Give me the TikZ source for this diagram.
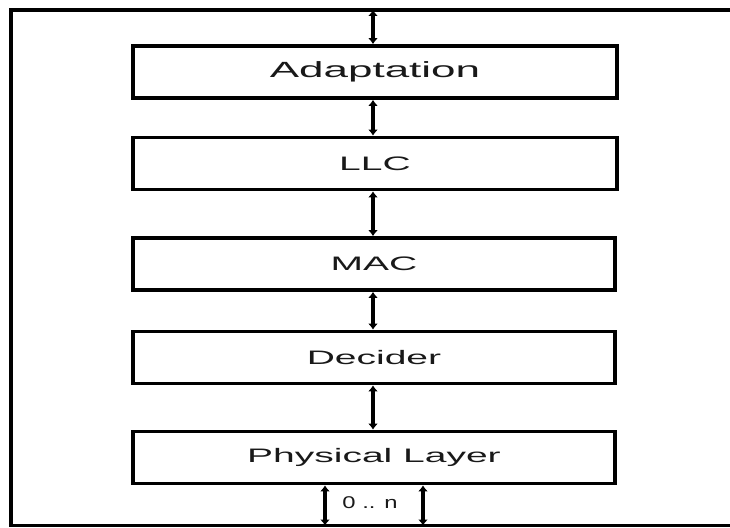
\documentclass[tikz,border=0pt]{standalone}
\usepackage{fontspec}
\setmainfont{Liberation Sans}
\newfontfamily\widefont[FakeStretch=2]{Liberation Sans}
\newfontfamily\midfont[FakeStretch=1.4]{Liberation Sans}
\usetikzlibrary{arrows.meta}
\begin{document}
\begin{tikzpicture}[x=1pt,y=-1pt,
  layerbox/.style={draw, line width=3.8pt, minimum width=484pt, minimum height=52pt,
    inner sep=0pt, font=\widefont\fontsize{19.5pt}{22pt}\selectfont, text=black!90},
  frameline/.style={line width=3.2pt},
  arr/.style={line width=3.6pt, {Latex[length=6pt,width=10pt]}-{Latex[length=6pt,width=10pt]}}]
\useasboundingbox (0,0) rectangle (730,527);
\draw[frameline] (731,10) -- (11,10) -- (11,525.5) -- (731,525.5);
\node[layerbox, font=\widefont\fontsize{22pt}{26pt}\selectfont] (ad) at (375,72) {Adaptation};
\node[layerbox] (llc) at (375,163.5) {LLC};
\node[layerbox, minimum width=482pt] (mac) at (374,264) {MAC};
\node[layerbox, minimum width=482pt] (dec) at (374,357.5) {Decider};
\node[layerbox, minimum width=482pt] (phy) at (374,457.5) {Physical Layer};
\coordinate (t0) at (373,10);
\coordinate (b1) at (325,525.5);
\coordinate (b2) at (423,525.5);
\draw[arr] (t0) -- (t0 |- ad.north);
\draw[arr] (ad.south -| t0) -- (llc.north -| t0);
\draw[arr] (llc.south -| t0) -- (mac.north -| t0);
\draw[arr] (mac.south -| t0) -- (dec.north -| t0);
\draw[arr] (dec.south -| t0) -- (phy.north -| t0);
\draw[arr] (phy.south -| b1) -- (b1);
\draw[arr] (phy.south -| b2) -- (b2);
\node[font=\midfont\fontsize{17pt}{19pt}\selectfont, text=black!90] (n) at (370,503) {0 .. n};
\end{tikzpicture}
\end{document}
